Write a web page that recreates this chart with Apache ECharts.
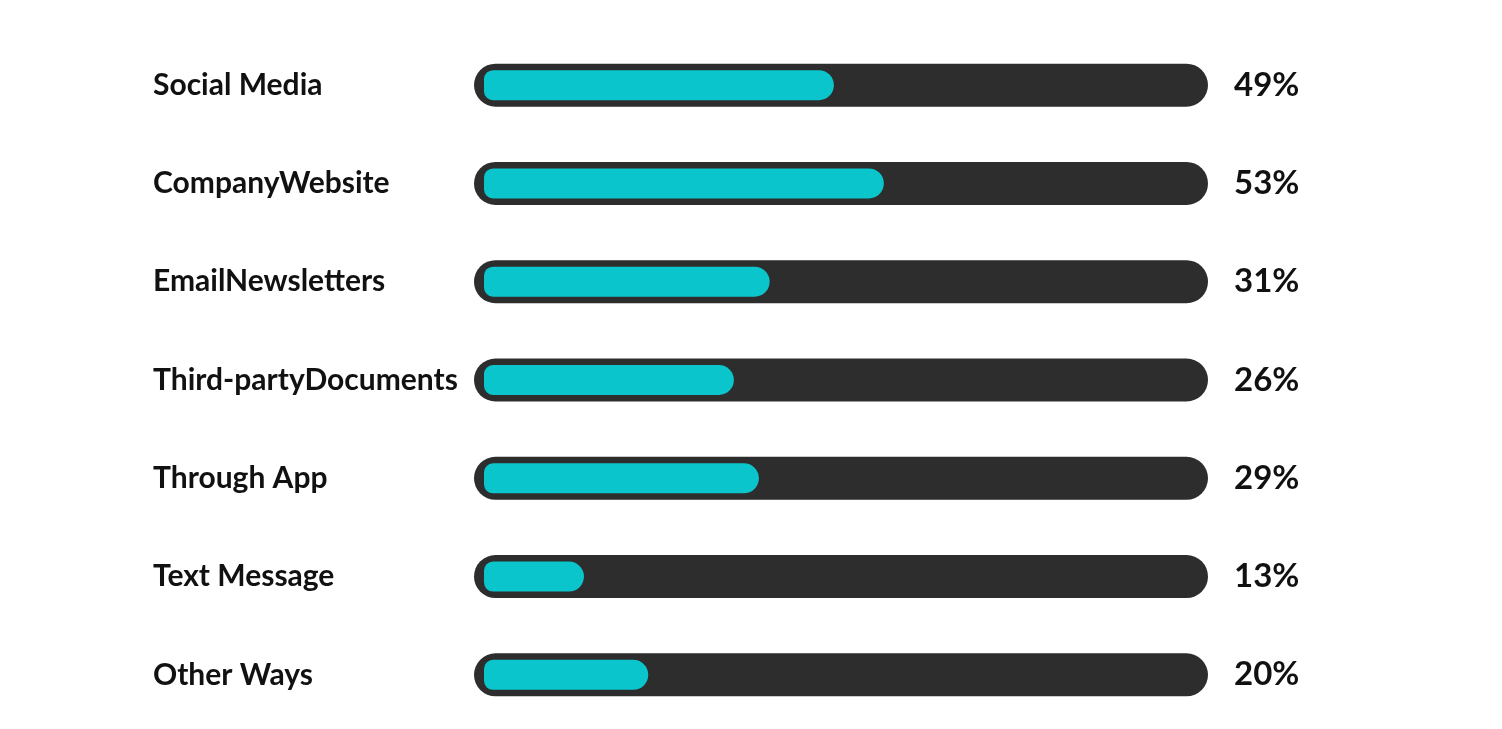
<!DOCTYPE html>
<html>
<head>
<meta charset="utf-8">
<script src="https://cdn.jsdelivr.net/npm/echarts@6/dist/echarts.min.js"></script>
<style>
  html, body { margin: 0; padding: 0; background: #fff; }
  #chart { width: 1502px; height: 729px; }
</style>
</head>
<body>
<div id="chart"></div>
<script>
// channels, top to bottom
const categories = ['Social Media', 'CompanyWebsite', 'EmailNewsletters', 'Third-partyDocuments', 'Through App', 'Text Message', 'Other Ways']
// percentages printed at the right
const shareLabels = [49, 53, 31, 26, 29, 13, 20]
// drawn length of the cyan bars (share of the track)
const barLengths = [49, 56, 40, 35, 38.5, 14, 23]
const trackValues = [100, 100, 100, 100, 100, 100, 100]

const fontFamily = 'Lato, "Open Sans", sans-serif'

const chart = echarts.init(document.getElementById('chart'))

chart.setOption({
  backgroundColor: '#ffffff',
  animation: false,
  grid: [
    { left: 474, right: 294, top: 36, bottom: 5 },
    { left: 484, right: 304, top: 36, bottom: 5 }
  ],
  xAxis: [
    { type: 'value', gridIndex: 0, min: 0, max: 100, show: false },
    { type: 'value', gridIndex: 1, min: 0, max: 100, show: false }
  ],
  yAxis: [{
    type: 'category',
    gridIndex: 0,
    inverse: true,
    data: categories,
    axisLine: { show: false },
    axisTick: { show: false },
    axisLabel: {
      align: 'left',
      margin: 321,
      color: '#111',
      fontSize: 30,
      fontWeight: 'bold',
      fontFamily
    }
  }, {
    type: 'category',
    gridIndex: 1,
    inverse: true,
    data: categories,
    show: false
  }],
  series: [{
    name: 'track',
    type: 'bar',
    xAxisIndex: 0,
    yAxisIndex: 0,
    data: trackValues,
    barWidth: 43,
    itemStyle: {
      color: '#2d2d2d',
      borderRadius: 22
    },
    label: {
      show: true,
      position: 'right',
      distance: 26,
      color: '#111',
      fontSize: 33,
      fontWeight: 'bold',
      fontFamily,
      formatter: p => shareLabels[p.dataIndex] + '%'
    },
    silent: true
  }, {
    name: 'share',
    type: 'bar',
    xAxisIndex: 1,
    yAxisIndex: 1,
    data: barLengths,
    barWidth: 30,
    itemStyle: {
      color: '#0bc5cc',
      borderRadius: [9, 15, 15, 9]
    }
  }]
})
</script>
</body>
</html>
